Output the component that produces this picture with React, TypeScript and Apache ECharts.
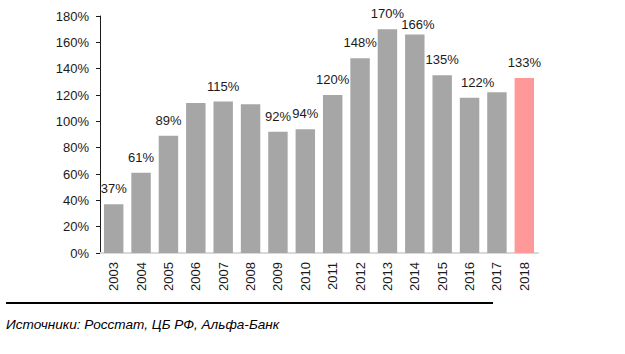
import React, { useEffect, useRef } from "react";
import * as echarts from "echarts";

const years = ["2003","2004","2005","2006","2007","2008","2009","2010","2011","2012","2013","2014","2015","2016","2017","2018"];
const values = [37, 61, 89, 114, 115, 113, 92, 94, 120, 148, 170, 166, 135, 118, 122, 133];
const labelValues: (number | null)[] = [37, 61, 89, null, 115, null, 92, 94, 120, 148, 170, 166, 135, 122, null, 133];
const yTicks = [0, 20, 40, 60, 80, 100, 120, 140, 160, 180];
const sourceText = "Источники: Росстат, ЦБ РФ, Альфа-Банк";

const FONT = "Liberation Sans, Arial, sans-serif";

export default function App() {
  const ref = useRef<HTMLDivElement>(null);
  useEffect(() => {
    if (!ref.current) return;
    const chart = echarts.init(ref.current, undefined, { renderer: "svg" });
    const data = values.map((v, i) => ({
      value: v,
      itemStyle: { color: i === values.length - 1 ? "#ff9999" : "#a6a6a6" },
      label: {
        show: labelValues[i] !== null,
        offset: i === 13 ? [8, 0] : i === 11 ? [3, 0] : [0, 0],
        distance: i === 11 ? 3 : 9,
      },
    }));
    chart.setOption({
      animation: false,
      grid: { left: 100, right: 87, top: 16, bottom: 101 },
      xAxis: {
        type: "category",
        data: years,
        axisLine: { lineStyle: { color: "#d9d9d9", width: 2 } },
        axisTick: { show: false },
        axisLabel: {
          rotate: 90,
          color: "#1a1a1a",
          fontFamily: FONT,
          fontSize: 13,
          margin: 9,
        },
      },
      yAxis: {
        type: "value",
        min: yTicks[0],
        max: yTicks[yTicks.length - 1],
        interval: 20,
        splitLine: { show: false },
        axisLine: { show: true, lineStyle: { color: "#1a1a1a", width: 1 } },
        axisTick: { show: true, length: 4, lineStyle: { color: "#1a1a1a" } },
        axisLabel: {
          color: "#1a1a1a",
          fontFamily: FONT,
          fontSize: 13,
          margin: 11,
          formatter: (v: number) => v + "%",
        },
      },
      series: [
        {
          type: "bar",
          data,
          barCategoryGap: "29%",
          label: {
            position: "top",
            color: "#1a1a1a",
            fontFamily: FONT,
            fontSize: 13,
            formatter: (p: any) => {
              const l = labelValues[p.dataIndex];
              return l === null ? "" : l + "%";
            },
          },
        },
      ],
      graphic: [
        {
          type: "line",
          shape: { x1: 6, y1: 303, x2: 493, y2: 303 },
          style: { stroke: "#000", lineWidth: 2 },
        },
        {
          type: "text",
          x: 6,
          y: 324,
          style: {
            text: sourceText,
            fill: "#000",
            font: "italic 13.6px " + FONT,
            textVerticalAlign: "middle",
          },
        },
      ],
    });
    return () => chart.dispose();
  }, []);
  return <div ref={ref} style={{ width: 625, height: 354, position: "absolute", left: 0, top: 0 }} />;
}
